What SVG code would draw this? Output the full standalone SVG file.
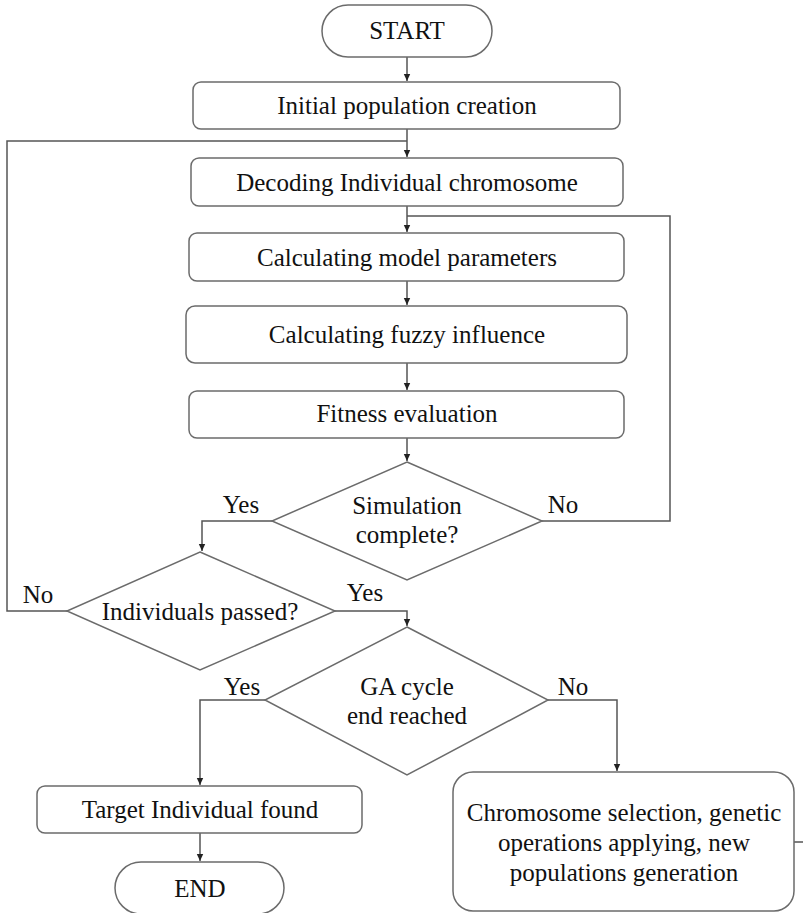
<svg xmlns="http://www.w3.org/2000/svg" width="803" height="913" viewBox="0 0 803 913">
<defs>
<style>
.box{fill:#fff;stroke:#6b6b6b;stroke-width:1.5}
.ln{fill:none;stroke:#555;stroke-width:1.5}
text{font-family:"Liberation Serif","Times New Roman",serif;font-size:25px;fill:#111;text-anchor:middle}
</style>
<marker id="ah" markerWidth="8" markerHeight="8" refX="7" refY="4" orient="auto" markerUnits="userSpaceOnUse">
<path d="M0,0.8 L7,4 L0,7.2 Z" fill="#222"/>
</marker>
</defs>
<rect width="803" height="913" fill="#fff"/>
<g id="connectors">
<path class="ln" d="M407,57 V81" marker-end="url(#ah)"/>
<path class="ln" d="M407,129 V157" marker-end="url(#ah)"/>
<path class="ln" d="M67,611 H7 V141 H407"/>
<path class="ln" d="M407,206 V232" marker-end="url(#ah)"/>
<path class="ln" d="M542,521 H670 V216 H407"/>
<path class="ln" d="M407,281 V305" marker-end="url(#ah)"/>
<path class="ln" d="M407,363 V390" marker-end="url(#ah)"/>
<path class="ln" d="M407,438 V461" marker-end="url(#ah)"/>
<path class="ln" d="M272,521 H202 V551" marker-end="url(#ah)"/>
<path class="ln" d="M335,611 H407 V626" marker-end="url(#ah)"/>
<path class="ln" d="M265,700 H200 V785" marker-end="url(#ah)"/>
<path class="ln" d="M548,700 H617 V771" marker-end="url(#ah)"/>
<path class="ln" d="M200,833 V861" marker-end="url(#ah)"/>
<path class="ln" d="M794,842 H803"/>
</g>
<g id="start">
<rect class="box" x="322" y="5" width="170" height="52" rx="26"/>
<text x="407" y="39">START</text>
</g>
<g id="init">
<rect class="box" x="193" y="82" width="427" height="47" rx="8"/>
<text x="407" y="114">Initial population creation</text>
</g>
<g id="decode">
<rect class="box" x="191" y="158" width="432" height="48" rx="8"/>
<text x="407" y="191">Decoding Individual chromosome</text>
</g>
<g id="params">
<rect class="box" x="189" y="233" width="435" height="48" rx="8"/>
<text x="407" y="266">Calculating model parameters</text>
</g>
<g id="fuzzy">
<rect class="box" x="186" y="306" width="441" height="57" rx="9"/>
<text x="407" y="343">Calculating fuzzy influence</text>
</g>
<g id="fitness">
<rect class="box" x="189" y="391" width="435" height="47" rx="8"/>
<text x="407" y="422">Fitness evaluation</text>
</g>
<g id="simulation">
<polygon class="box" points="407,462 542,521 407,580 272,521"/>
<text x="407" y="514">Simulation</text>
<text x="407" y="543">complete?</text>
</g>
<text x="241" y="513">Yes</text>
<text x="563" y="513">No</text>
<g id="passed">
<polygon class="box" points="200,552 335,611 200,670 67,611"/>
<text x="200" y="620">Individuals passed?</text>
</g>
<text x="38" y="603">No</text>
<text x="365" y="601">Yes</text>
<g id="gacycle">
<polygon class="box" points="407,627 548,700 407,775 265,700"/>
<text x="407" y="695">GA cycle</text>
<text x="407" y="724">end reached</text>
</g>
<text x="242" y="695">Yes</text>
<text x="573" y="695">No</text>
<g id="target">
<rect class="box" x="37" y="786" width="325" height="47" rx="8"/>
<text x="200" y="818">Target Individual found</text>
</g>
<g id="end">
<rect class="box" x="115" y="862" width="169" height="52" rx="26"/>
<text x="200" y="897">END</text>
</g>
<g id="selection">
<rect class="box" x="453" y="772" width="341" height="139" rx="20"/>
<text x="624" y="821">Chromosome selection, genetic</text>
<text x="624" y="851">operations applying, new</text>
<text x="624" y="881">populations generation</text>
</g>
</svg>
